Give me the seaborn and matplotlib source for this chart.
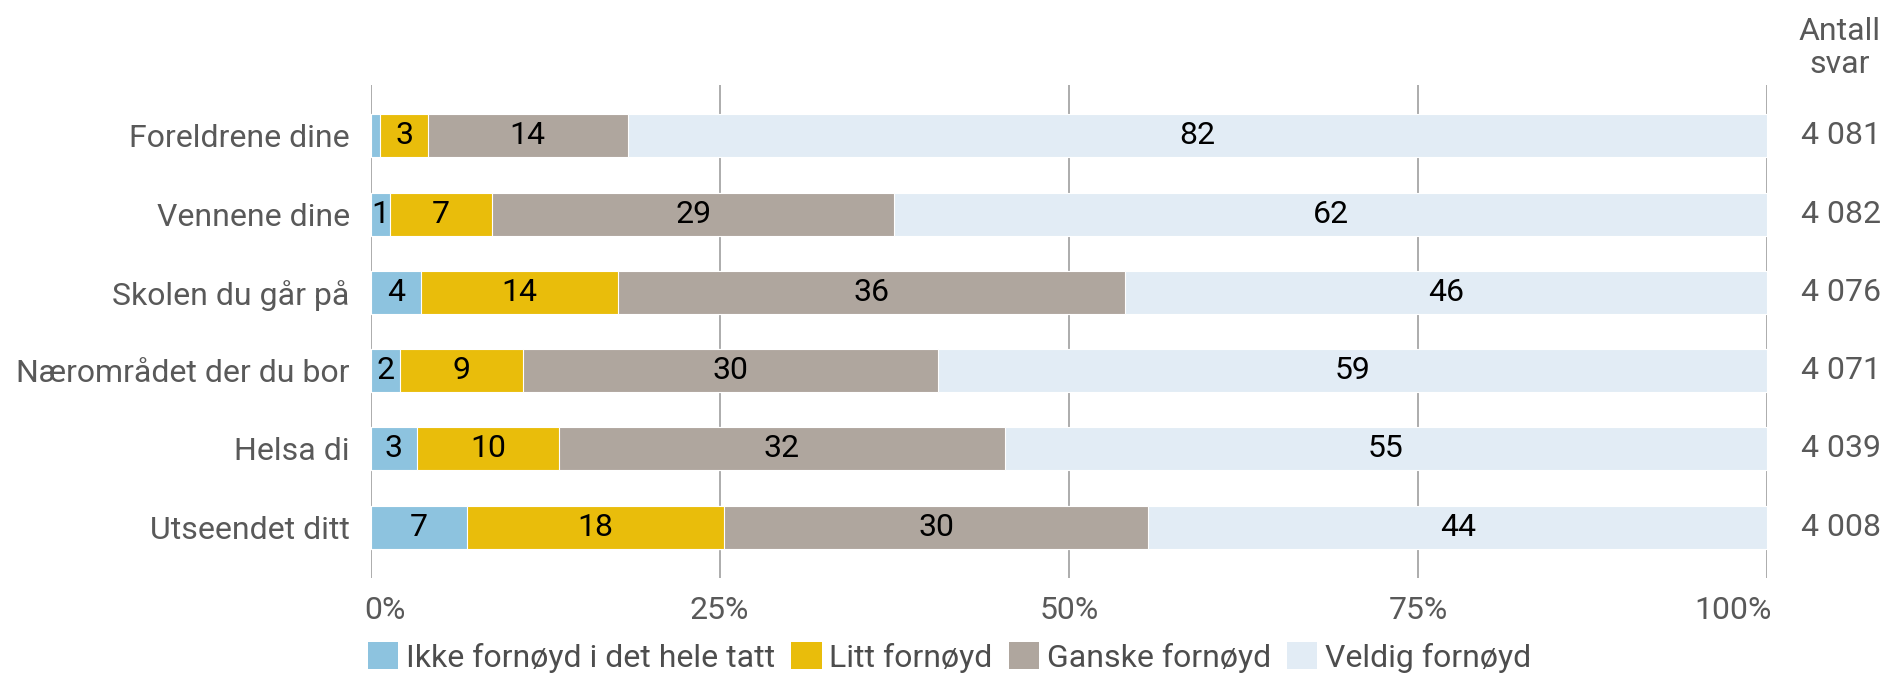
import numpy as np
import pandas as pd
import matplotlib.pyplot as plt
import matplotlib.transforms as mtransforms
from matplotlib.patches import Patch
import seaborn as sns

sns.set_theme(style='white')
plt.rcParams['font.family'] = ['Roboto', 'DejaVu Sans']

# data (percent of answers)
categories = ['Foreldrene dine', 'Vennene dine', 'Skolen du går på',
              'Nærområdet der du bor', 'Helsa di', 'Utseendet ditt']
series = ['Ikke fornøyd i det hele tatt', 'Litt fornøyd', 'Ganske fornøyd', 'Veldig fornøyd']
ikke = [0.7, 1.4, 3.6, 2.1, 3.3, 6.9]
litt = [3.4, 7.3, 14.1, 8.8, 10.2, 18.4]
ganske = [14.3, 28.8, 36.3, 29.7, 31.9, 30.4]
veldig = [81.6, 62.5, 46.0, 59.4, 54.6, 44.3]
antall = ['4 081', '4 082', '4 076', '4 071', '4 039', '4 008']
xticks = [0, 25, 50, 75, 100]

colors = ['#8DC3DF', '#E9BD0B', '#AFA69E', '#E2ECF5']
text_grey = '#595959'
fs = 23

df = pd.DataFrame({'cat': categories, series[0]: ikke, series[1]: litt,
                   series[2]: ganske, series[3]: veldig})
cum = df[series].cumsum(axis=1)

fig = plt.figure(figsize=(18.81, 6.74), dpi=100)
ax = fig.add_axes([0.197, 0.1424, 0.7424, 0.7315])

# draw stacked bars back to front using cumulative sums
for s, c in reversed(list(zip(series, colors))):
    sns.barplot(x=cum[s], y=df['cat'], orient='h', color=c, width=0.55,
                saturation=1, edgecolor='white', linewidth=0.8, ax=ax, zorder=2)

# segment labels
for s in series:
    for i, (v, right) in enumerate(zip(df[s], cum[s])):
        if v >= 1:
            ax.text(right - v / 2, i, f'{v:.0f}', ha='center', va='center',
                    fontsize=fs, color='black', zorder=3)

ax.set_xlim(0, 100)
ax.set_ylim(5.65, -0.65)
ax.set_xticks(xticks)
ax.set_xticklabels([f'{t}%' for t in xticks])
ax.grid(axis='x', color='#A6A6A6', linewidth=1.3, zorder=0)
ax.set_axisbelow(True)
ax.set_xlabel('')
ax.set_ylabel('')
for sp in ax.spines.values():
    sp.set_visible(False)
ax.tick_params(axis='y', length=0, pad=15, labelsize=fs, labelcolor=text_grey)
ax.tick_params(axis='x', length=0, pad=13, labelsize=fs, labelcolor=text_grey)

# keep first and last x labels inside the plot edges
xlabels = ax.get_xticklabels()
xlabels[0].set_ha('left')
xlabels[0].set_transform(xlabels[0].get_transform() +
                         mtransforms.ScaledTranslation(-6 / 100, 0, fig.dpi_scale_trans))
xlabels[-1].set_ha('right')
xlabels[-1].set_transform(xlabels[-1].get_transform() +
                          mtransforms.ScaledTranslation(5 / 100, 0, fig.dpi_scale_trans))

# number of answers on the right
trans = mtransforms.blended_transform_factory(ax.transAxes, ax.transData)
for i, n in enumerate(antall):
    ax.text(1.024, i, n, transform=trans, ha='left', va='center',
            fontsize=fs, color=text_grey)
fig.text(0.978, 0.929, 'Antall\nsvar', ha='center', va='center',
         fontsize=fs, color=text_grey, linespacing=1.2)

handles = [Patch(facecolor=c, edgecolor='none') for c in colors]
fig.legend(handles, series, loc='center left', bbox_to_anchor=(0.1955, 0.025),
           ncol=4, frameon=False, fontsize=fs, handlelength=0.95, handleheight=0.95,
           handletextpad=0.25, columnspacing=0.5, labelcolor='#4D4D4D',
           borderaxespad=0, borderpad=0)

fig.savefig('out.png', dpi=100)
